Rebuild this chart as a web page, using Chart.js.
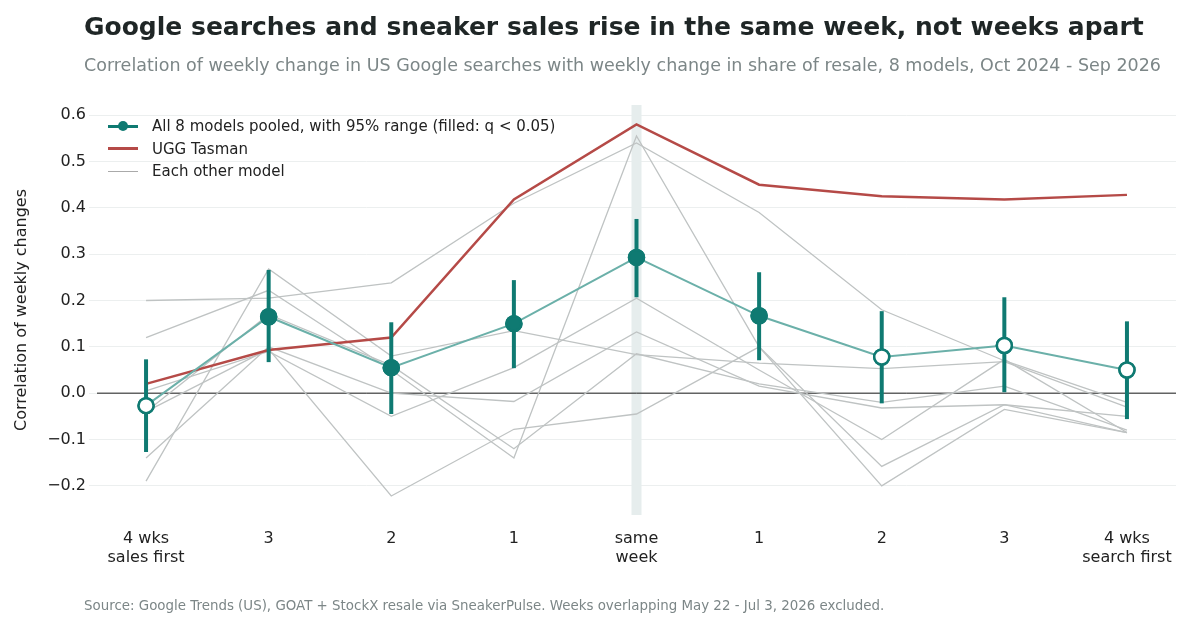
<!DOCTYPE html>
<html><head><meta charset="utf-8">
<script src="https://cdn.jsdelivr.net/npm/chart.js@4"></script>
<style>
body{margin:0;background:#fff;font-family:"DejaVu Sans",sans-serif}
#wrap{position:relative;width:1200px;height:620px}
#t{position:absolute;left:84px;top:12px;font-size:25px;font-weight:bold;color:#1f2626;white-space:nowrap}
#s{position:absolute;left:84px;top:55px;font-size:17.5px;color:#7c8687;white-space:nowrap}
#f{position:absolute;left:84px;top:598px;font-size:13.4px;color:#7c8687;white-space:nowrap}
#lg{position:absolute;left:108px;top:115px;font-size:15px;color:#222;line-height:22.5px}
#lg div{display:flex;align-items:center}
.sw{width:30px;height:0;margin-right:14px;position:relative}
</style></head><body>
<div id="wrap">
<canvas id="c" width="1200" height="620"></canvas>
<div id="t">Google searches and sneaker sales rise in the same week, not weeks apart</div>
<div id="s">Correlation of weekly change in US Google searches with weekly change in share of resale, 8 models, Oct 2024 - Sep 2026</div>
<div id="f">Source: Google Trends (US), GOAT + StockX resale via SneakerPulse. Weeks overlapping May 22 - Jul 3, 2026 excluded.</div>
<div id="lg">
<div><span class="sw" style="border-top:3px solid #0f7a72"><span style="position:absolute;left:10px;top-7.5px;top:-6.5px;width:10px;height:10px;border-radius:50%;background:#0f7a72"></span></span>All 8 models pooled, with 95% range (filled: q &lt; 0.05)</div>
<div><span class="sw" style="border-top:3px solid #b54a47"></span>UGG Tasman</div>
<div><span class="sw" style="border-top:1.5px solid #aaa"></span>Each other model</div>
</div>
</div>
<script>
const tickLabels=[["4 wks","sales first"],"3","2","1",["same","week"],"1","2","3",["4 wks","search first"]];
const yTicks=[-0.2,-0.1,0,0.1,0.2,0.3,0.4,0.5,0.6];
const pooled=[-0.027,0.165,0.055,0.150,0.293,0.167,0.078,0.103,0.050];
const pooledLo=[-0.127,0.067,-0.045,0.054,0.207,0.071,-0.022,0.002,-0.056];
const pooledHi=[0.073,0.266,0.153,0.244,0.376,0.261,0.177,0.207,0.155];
const significant=[false,true,true,true,true,true,false,false,false];
const ugg=[0.020,0.093,0.120,0.418,0.580,0.450,0.425,0.418,0.428];
const otherModels=[
[0.200,0.205,0.238,0.410,0.540,0.390,0.180,0.070,-0.020],
[0.120,0.222,0.050,-0.140,0.555,0.100,-0.200,-0.035,-0.085],
[-0.190,0.268,0.080,0.135,0.083,0.065,0.053,0.068,-0.030],
[0.005,0.090,-0.050,0.055,0.205,0.050,-0.100,0.073,-0.085],
[-0.140,0.100,0.000,-0.018,0.132,0.015,-0.032,-0.025,-0.050],
[-0.040,0.095,-0.222,-0.078,-0.045,0.100,-0.158,-0.025,-0.085],
[-0.040,0.170,0.060,-0.120,0.085,0.020,-0.020,0.015,-0.080]
];
const xy=a=>a.map((v,i)=>({x:i,y:v}));
const teal='#0f7a72';
const datasets=otherModels.map(m=>({data:xy(m),borderColor:'#bfc3c3',borderWidth:1.3,pointRadius:0,order:3}));
datasets.push({data:xy(ugg),borderColor:'#b54a47',borderWidth:2.5,pointRadius:0,order:2});
datasets.push({data:xy(pooled),borderColor:'#6bb0a9',borderWidth:2,pointRadius:7.5,pointHoverRadius:7.5,
 pointBorderWidth:2.5,pointBorderColor:teal,pointBackgroundColor:significant.map(s=>s?teal:'#fff'),order:0});
const plug={id:'p',
 beforeDatasetsDraw(c){const {ctx,scales:{x,y},chartArea:a}=c;ctx.save();
  ctx.fillStyle='#e6eded';const px=x.getPixelForValue(4);ctx.fillRect(px-5,a.top,10,a.bottom-a.top);
  ctx.strokeStyle='#1a1a1a';ctx.lineWidth=1;const z=y.getPixelForValue(0);ctx.beginPath();ctx.moveTo(a.left,z);ctx.lineTo(a.right,z);ctx.stroke();ctx.restore();},
 afterDatasetsDraw(c){const {ctx,scales:{x,y}}=c;ctx.save();ctx.strokeStyle=teal;ctx.lineWidth=4;
  pooled.forEach((v,i)=>{const px=x.getPixelForValue(i);ctx.beginPath();ctx.moveTo(px,y.getPixelForValue(pooledLo[i]));ctx.lineTo(px,y.getPixelForValue(pooledHi[i]));ctx.stroke();});
  ctx.restore();
  const m=c.getDatasetMeta(c.data.datasets.length-1);m.data.forEach(e=>e.draw(ctx));}
};
new Chart(document.getElementById('c'),{type:'line',data:{datasets},plugins:[plug],
options:{responsive:false,animation:false,layout:{padding:{top:105,right:24,bottom:52,left:12}},
plugins:{legend:{display:false},tooltip:{enabled:false}},
scales:{
x:{type:'linear',min:-0.4,max:8.4,grid:{display:false},border:{display:false},
 afterBuildTicks(s){s.ticks=tickLabels.map((_,i)=>({value:i}))},
 afterFit(s){s.height=53},
 ticks:{autoSkip:false,color:'#222',font:{size:16,family:'DejaVu Sans'},padding:6,callback:v=>tickLabels[v]}},
y:{min:-0.263,max:0.622,border:{display:false},grid:{color:'#ecefef'},
 afterBuildTicks(s){s.ticks=yTicks.map(v=>({value:v}))},
 afterFit(s){s.width=85},
 title:{display:true,text:'Correlation of weekly changes',color:'#222',padding:{top:0,bottom:4},font:{size:16,family:'DejaVu Sans'}},
 ticks:{color:'#222',font:{size:16,family:'DejaVu Sans'},callback:v=>{const r=Math.round(v*10)/10;return (r<0?'\u2212'+Math.abs(r).toFixed(1):r.toFixed(1))}}}
}}});
</script></body></html>
